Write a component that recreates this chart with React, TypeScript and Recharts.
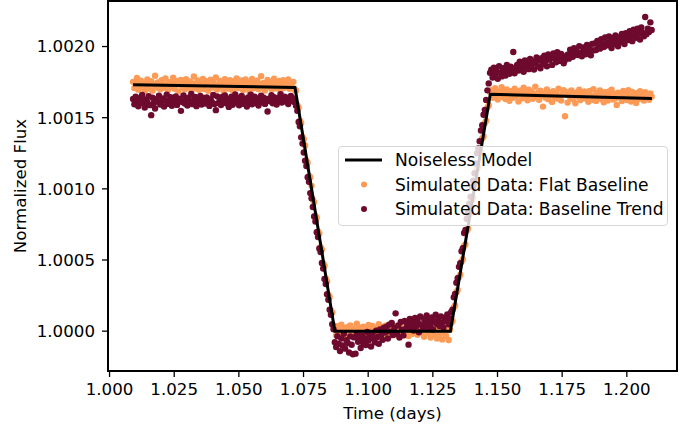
import React from 'react'
import { ScatterChart, Scatter, XAxis, YAxis, Legend, ReferenceArea } from 'recharts'

// observation times: evenly spaced cadence
const TIME_START = 1.0091
const CADENCE = 0.0005

// flux in ppm above 1.0, 402 exposures per series
const flatPre = [
  1752, 1708, 1741, 1779, 1697, 1733, 1760, 1715, 1745, 1688, 1727, 1769, 1704, 1738, 1756, 1690, 1731, 1795, 1712, 1748,
  1722, 1699, 1763, 1736, 1710, 1775, 1729, 1694, 1750, 1717, 1742, 1781, 1703, 1726, 1758, 1685, 1737, 1766, 1714, 1746,
  1700, 1771, 1733, 1719, 1754, 1692, 1740, 1789, 1707, 1729, 1762, 1696, 1744, 1721, 1773, 1702, 1735, 1757, 1689, 1739,
  1767, 1711, 1748, 1725, 1782, 1698, 1731, 1759, 1716, 1743, 1686, 1770, 1723, 1739, 1705, 1764, 1728, 1692, 1751, 1734,
  1776, 1709, 1742, 1720, 1761, 1695, 1737, 1768, 1713, 1747, 1684, 1730, 1772, 1706, 1744, 1726, 1760, 1699, 1735, 1792,
  1712, 1745, 1691, 1738, 1765, 1718, 1749, 1701, 1732, 1774, 1706, 1740, 1722, 1758, 1687, 1736, 1763, 1710, 1743, 1728,
  1769, 1703, 1739, 1716, 1752, 1694,
]
const flatIngress = [
  1691, 1588, 1571, 1479, 1463, 1364, 1348, 1305, 1199, 1184, 1090, 1081, 1021, 923, 908,
  811, 797, 701, 686, 590, 575, 478, 462, 370, 351, 256, 240, 145, 131, 35,
]
const flatBottom = [
  15, -28, 34, 3, -19, 46, -8, 24, -36, 11, 29, -14, 40, -3, 18, -31, 7, 52, -11, 26,
  -41, 5, 31, -6, 21, -25, 44, 9, -17, 36, -2, 23, -33, 13, 48, -9, 30, -22, 4, 38,
  -15, 27, -38, 10, 42, -5, 19, -28, 33, 1, -12, 39, -21, 16, 51, -7, 25, -34, 8, 35,
  -18, 22, -3, 45, -26, 12, 31, -10, 28, -40, 6, 37, -16, 20, -45, 3, 26, -30, 14, -52,
  9, -24, 18, -58, -12, 22, -36, 5, -62, 11,
]
const flatEgress = [
  58, 71, 168, 180, 273, 289, 381, 397, 490, 505, 599, 611, 706, 720, 815, 829,
  922, 938, 1031, 1043, 1139, 1152, 1247, 1260, 1356, 1368, 1463, 1479, 1572, 1588, 1681,
]
const flatPost = [
  1693, 1640, 1675, 1708, 1652, 1627, 1684, 1661, 1715, 1645, 1679, 1631, 1698, 1657, 1619, 1687, 1669, 1641, 1703, 1650,
  1677, 1613, 1690, 1663, 1636, 1711, 1672, 1646, 1622, 1696, 1655, 1682, 1633, 1666, 1718, 1643, 1674, 1626, 1689, 1652,
  1578, 1670, 1640, 1699, 1629, 1680, 1656, 1611, 1686, 1647, 1675, 1634, 1704, 1653, 1620, 1667, 1694, 1510, 1662, 1606,
  1681, 1644, 1691, 1630, 1660, 1601, 1677, 1648, 1697, 1624, 1665, 1641, 1685, 1635, 1671, 1612, 1688, 1649, 1626, 1700,
  1657, 1618, 1673, 1639, 1692, 1631, 1664, 1608, 1679, 1645, 1621, 1684, 1652, 1697, 1628, 1668, 1637, 1590, 1676, 1643,
  1659, 1617, 1688, 1634, 1670, 1625, 1693, 1648, 1614, 1681, 1639, 1662, 1603, 1674, 1631, 1686, 1646, 1666, 1620, 1679,
  1641, 1657, 1626, 1670, 1648,
]

const trendPre = [
  1632, 1594, 1648, 1611, 1580, 1637, 1620, 1659, 1601, 1572, 1626, 1609, 1651, 1588, 1518, 1641, 1603, 1565, 1630, 1613,
  1655, 1592, 1607, 1636, 1578, 1622, 1662, 1597, 1615, 1644, 1584, 1625, 1604, 1649, 1590, 1617, 1633, 1548, 1610, 1657,
  1600, 1628, 1586, 1640, 1612, 1666, 1595, 1619, 1646, 1581, 1624, 1606, 1653, 1593, 1616, 1638, 1599, 1643, 1621, 1583,
  1629, 1608, 1660, 1596, 1553, 1650, 1604, 1635, 1589, 1645, 1618, 1656, 1602, 1631, 1576, 1614, 1647, 1591, 1627, 1663,
  1605, 1639, 1587, 1620, 1652, 1598, 1634, 1611, 1579, 1642, 1617, 1661, 1594, 1625, 1648, 1603, 1636, 1585, 1622, 1654,
  1609, 1640, 1597, 1628, 1544, 1633, 1615, 1658, 1601, 1644, 1619, 1592, 1637, 1626, 1665, 1606, 1631, 1648, 1613, 1640,
  1596, 1629, 1652, 1617, 1635, 1608,
]
const trendIngress = [
  1584, 1548, 1470, 1439, 1362, 1318, 1255, 1197, 1160, 1081, 1049, 970, 934, 872, 806,
  771, 695, 661, 581, 556, 479, 440, 367, 331, 259, 221, 151, 115, 49, 14,
]
const trendBottom = [
  -78, -112, -35, -90, -140, -52, -101, -18, -123, -64, -83, -150, -37, -96, -162, -44, -158, -20, -75, -58,
  -118, -30, -84, -49, -97, -6, -66, -35, -108, -14, -53, -79, 4, -41, -88, 12, -23, -61, 25, -10,
  31, -52, 46, -3, 58, -27, 22, 125, -18, 40, -45, 64, 10, -30, 72, 18, 48, -95, 85, 26,
  61, 5, 92, 34, 70, -8, 103, 47, 19, 88, 56, 110, 28, 79, 44, 97, 12, 68, 115, 50,
  83, 36, 104, 60, 25, 95, 72, 118, 48, 90,
]
const trendEgress = [
  135, 150, 238, 262, 340, 372, 452, 478, 562, 583, 690, 712, 789, 830, 895, 945,
  1015, 1058, 1110, 1178, 1251, 1283, 1335, 1410, 1447, 1521, 1555, 1625, 1692, 1741, 1815,
]
const trendPost = [
  1838, 1782, 1851, 1806, 1829, 1774, 1862, 1815, 1790, 1848, 1821, 1797, 1871, 1833, 1808, 1859, 1826, 1962, 1812, 1853,
  1870, 1832, 1894, 1849, 1881, 1823, 1902, 1859, 1876, 1841, 1912, 1866, 1897, 1838, 1885, 1924, 1861, 1903, 1847, 1918,
  1876, 1935, 1902, 1862, 1944, 1908, 1927, 1871, 1952, 1916, 1890, 1961, 1925, 1899, 1948, 1933, 1883, 1905, 1920, 1942,
  1915, 1978, 1951, 1928, 1988, 1945, 1965, 1940, 2003, 1957, 1932, 1994, 1970, 1946, 2012, 1962, 1984, 1938, 2019, 1973,
  2021, 1976, 2040, 2003, 1985, 2052, 2014, 1997, 2063, 2026, 2008, 2071, 2033, 1990, 2058, 2019, 2078, 2041, 2002, 2066,
  2030, 2088, 2055, 2017, 2094, 2069, 2046, 2107, 2075, 2038, 2118, 2083, 2061, 2125, 2090, 2049, 2134, 2098, 2072, 2208,
  2086, 2125, 2103, 2170, 2117,
]

// noiseless transit model vertices
const modelTimes = [1.0091, 1.0717, 1.0871, 1.1318, 1.1472, 1.2097]
const modelFlux = [1.001731, 1.001712, 1.0, 1.0, 1.001665, 1.001634]

const xTicks = [1.0, 1.025, 1.05, 1.075, 1.1, 1.125, 1.15, 1.175, 1.2]
const yTicks = [1.0, 1.0005, 1.001, 1.0015, 1.002]
const X_DOMAIN = [0.9994, 1.2194]
const Y_DOMAIN = [0.99972, 1.00232]

const ORANGE = '#fd9b56'
const MAROON = '#6d0a2d'
const FONT = 'DejaVu Sans, sans-serif'

const toPoints = (ppm: number[]) => ppm.map((v, i) => ({ t: TIME_START + i * CADENCE, f: 1 + v * 1e-6 }))

const flatData = toPoints([...flatPre, ...flatIngress, ...flatBottom, ...flatEgress, ...flatPost])
const trendData = toPoints([...trendPre, ...trendIngress, ...trendBottom, ...trendEgress, ...trendPost])
const modelData = modelTimes.map((t, i) => ({ t, f: modelFlux[i] }))

const dot = (color: string) => (props: any) => <circle cx={props.cx} cy={props.cy} r={3.2} fill={color} />

const LegendBox = () => (
  <div
    style={{
      width: 330,
      height: 80,
      boxSizing: 'border-box',
      border: '1px solid #d6d6d6',
      borderRadius: 4,
      background: 'rgba(255,255,255,0.8)',
    }}
  >
    <svg width={328} height={78} style={{ display: 'block' }}>
      <line x1={6} x2={43} y1={13} y2={13} stroke="#000" strokeWidth={3} />
      <circle cx={25} cy={37.5} r={3} fill={ORANGE} />
      <circle cx={25} cy={62} r={3} fill={MAROON} />
      <g fontFamily={FONT} fontSize={17.1} fill="#000">
        <text x={56} y={19}>Noiseless Model</text>
        <text x={56} y={43.5}>Simulated Data: Flat Baseline</text>
        <text x={56} y={67.5}>Simulated Data: Baseline Trend</text>
      </g>
    </svg>
  </div>
)

export default function App() {
  const tickStyle = { fontSize: 16.67, fill: '#000', fontFamily: FONT }
  const axisLine = { stroke: '#000', strokeWidth: 2 }
  return (
    <div style={{ position: 'absolute', left: 0, top: 0 }}>
      <ScatterChart width={694} height={426} margin={{ top: 1, right: 17, bottom: 0, left: 0 }}>
        <XAxis
          type="number"
          dataKey="t"
          domain={X_DOMAIN}
          ticks={xTicks}
          tickFormatter={(v: number) => v.toFixed(3)}
          allowDataOverflow
          height={55}
          tickSize={6}
          tickMargin={6}
          tick={tickStyle}
          axisLine={axisLine}
          tickLine={{ stroke: '#000', strokeWidth: 1.3 }}
          label={{ value: 'Time (days)', position: 'insideBottom', offset: 7, style: { fontSize: 16.67, fill: '#000', fontFamily: FONT } }}
        />
        <YAxis
          type="number"
          dataKey="f"
          domain={Y_DOMAIN}
          ticks={yTicks}
          tickFormatter={(v: number) => v.toFixed(4)}
          allowDataOverflow
          width={108}
          tickSize={6}
          tickMargin={7}
          tick={tickStyle}
          axisLine={axisLine}
          tickLine={{ stroke: '#000', strokeWidth: 1.3 }}
          label={{ value: 'Normalized Flux', angle: -90, position: 'insideLeft', offset: 20, style: { fontSize: 16.67, fill: '#000', fontFamily: FONT, textAnchor: 'middle' } }}
        />
        <Scatter name="Simulated Data: Flat Baseline" data={flatData} shape={dot(ORANGE)} isAnimationActive={false} />
        <Scatter name="Simulated Data: Baseline Trend" data={trendData} shape={dot(MAROON)} isAnimationActive={false} />
        <Scatter
          name="Noiseless Model"
          data={modelData}
          line={{ stroke: '#000', strokeWidth: 3 }}
          shape={() => <g />}
          isAnimationActive={false}
        />
        <ReferenceArea
          x1={X_DOMAIN[0]}
          x2={X_DOMAIN[1]}
          y1={Y_DOMAIN[0]}
          y2={Y_DOMAIN[1]}
          fill="none"
          stroke="#000"
          strokeWidth={2}
          ifOverflow="visible"
        />
        <Legend
          layout="horizontal"
          verticalAlign="middle"
          align="center"
          content={() => <LegendBox />}
          wrapperStyle={{ left: 338, top: 146, width: 330, height: 80 }}
        />
      </ScatterChart>
    </div>
  )
}
